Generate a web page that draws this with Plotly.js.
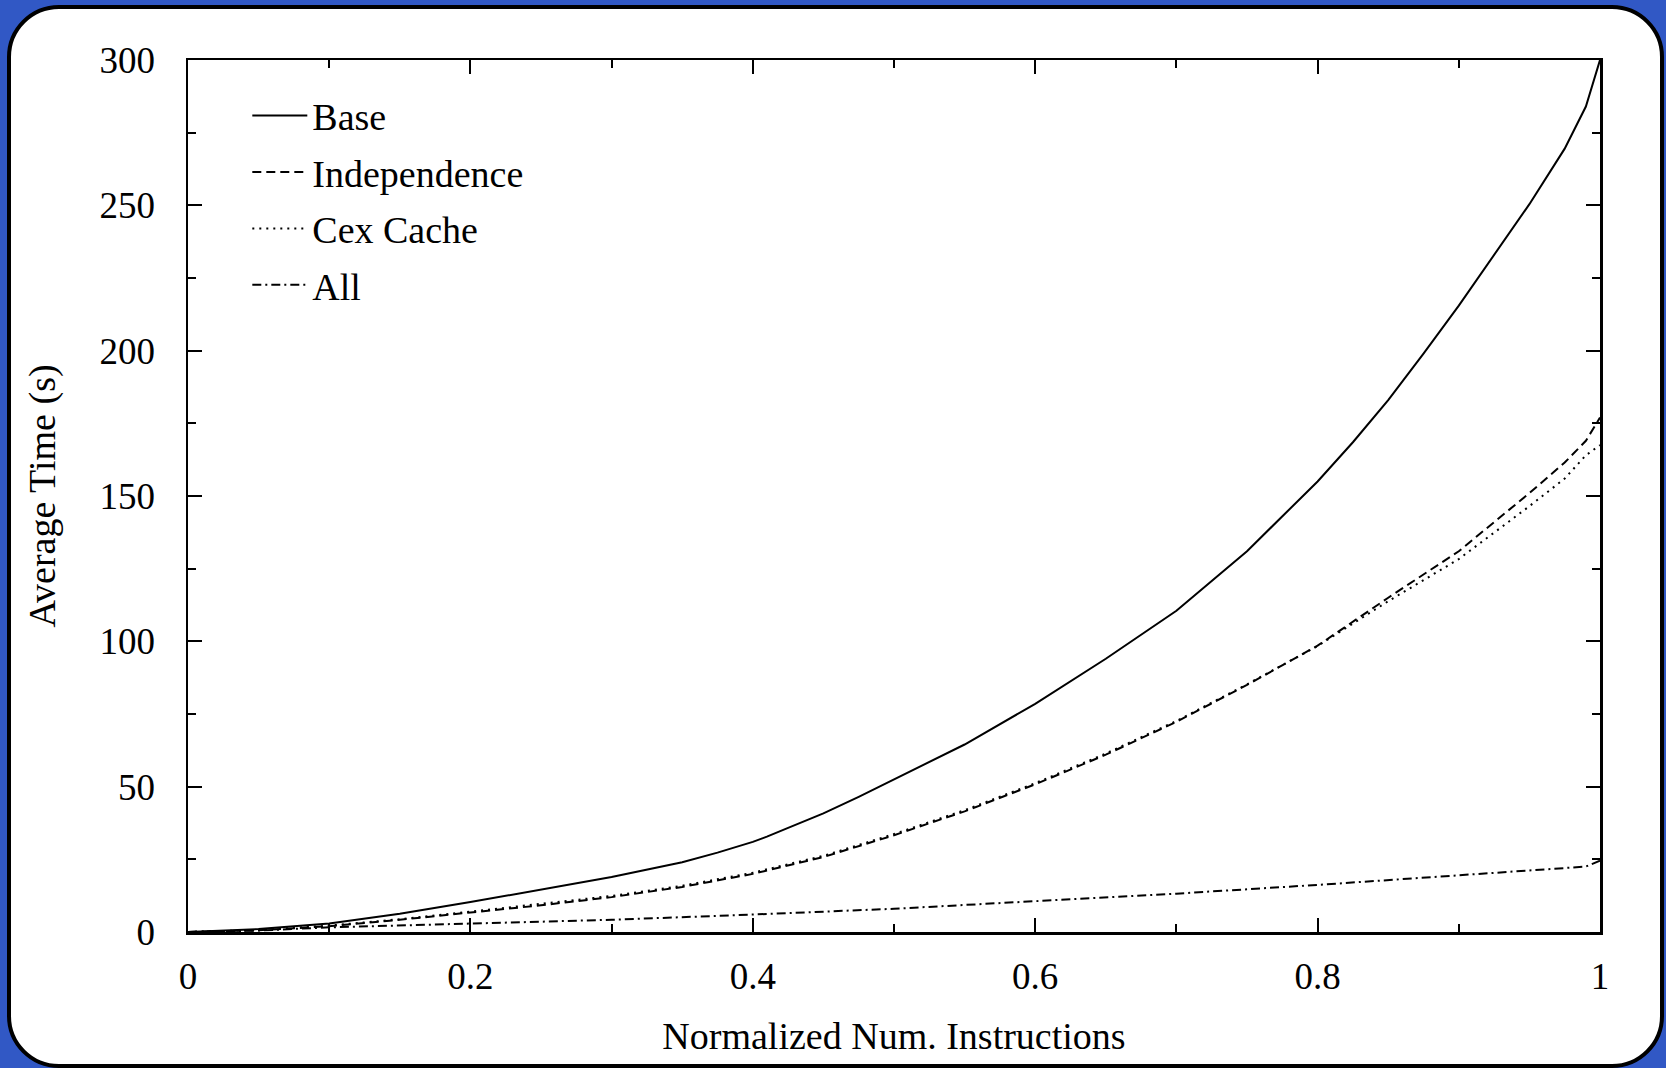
<!DOCTYPE html>
<html>
<head>
<meta charset="utf-8">
<script src="https://cdn.plot.ly/plotly-3.0.1.min.js"></script>
<style>
  html, body { margin: 0; padding: 0; width: 1666px; height: 1068px; overflow: hidden; background: #3158c5; }
  #card { position: absolute; left: 7px; top: 5px; width: 1657px; height: 1063px; box-sizing: border-box;
          border: 4px solid #000; border-radius: 52px; background: #fff; }
  #chart { position: absolute; left: 0; top: 0; width: 1666px; height: 1068px; }
</style>
</head>
<body>
<div id="card"></div>
<div id="chart"></div>
<script>
// Normalized number of instructions (x) and average time in seconds (y)
const xBase  = [0, 0.05, 0.1, 0.15, 0.2, 0.25, 0.3, 0.35, 0.375, 0.4, 0.41, 0.425, 0.45, 0.475, 0.5, 0.55, 0.6, 0.65, 0.7, 0.75, 0.8, 0.825, 0.85, 0.875, 0.9, 0.925, 0.95, 0.975, 0.99, 1.0];
const yBase  = [0, 1.0, 2.9, 6.3, 10.3, 14.5, 18.9, 24.0, 27.3, 31.0, 32.8, 35.8, 40.8, 46.5, 52.5, 64.5, 78.5, 94.0, 110.5, 131.0, 155.0, 168.5, 183.0, 199.0, 215.5, 233.0, 250.4, 269.5, 284.0, 300.0];

const xIndep = [0, 0.05, 0.1, 0.15, 0.2, 0.25, 0.3, 0.35, 0.4, 0.45, 0.5, 0.55, 0.6, 0.65, 0.7, 0.75, 0.8, 0.85, 0.9, 0.95, 0.975, 0.99, 1.0];
const yIndep = [0, 0.6, 2.0, 4.2, 6.7, 9.2, 12.0, 15.5, 20.0, 25.8, 33.3, 41.5, 50.8, 61.0, 72.3, 85.0, 98.5, 115.0, 131.0, 151.0, 161.5, 169.0, 177.0];

const xCex   = [0, 0.05, 0.1, 0.15, 0.2, 0.25, 0.3, 0.35, 0.4, 0.45, 0.5, 0.55, 0.6, 0.65, 0.7, 0.75, 0.8, 0.85, 0.9, 0.95, 0.975, 0.99, 1.0];
const yCex   = [0, 0.7, 2.2, 4.4, 7.0, 9.6, 12.4, 15.9, 20.4, 26.2, 33.7, 41.9, 51.2, 61.4, 72.6, 85.2, 98.4, 113.8, 128.3, 146.5, 156.0, 164.0, 167.5];

const xAll   = [0, 0.05, 0.1, 0.2, 0.3, 0.4, 0.5, 0.6, 0.7, 0.8, 0.9, 0.95, 0.99, 1.0];
const yAll   = [0, 0.5, 1.6, 2.8, 4.2, 6.0, 8.0, 10.6, 13.2, 16.2, 19.5, 21.2, 22.5, 24.5];

const seriesNames = ['Base', 'Independence', 'Cex Cache', 'All'];

const FONT = 'Liberation Serif, Times New Roman, serif';

function mk(x, y, name, dash) {
  return {
    x: x, y: y, name: name, type: 'scatter', mode: 'lines',
    legendgroup: name,
    line: { color: '#000', width: 2, dash: dash },
    hoverinfo: 'skip'
  };
}

const data = [
  mk(xBase,  yBase,  seriesNames[0], 'solid'),
  mk(xIndep, yIndep, seriesNames[1], '9px,5px'),
  mk(xCex,   yCex,   seriesNames[2], '2px,5px'),
  mk(xAll,   yAll,   seriesNames[3], '9px,4px,2px,4px')
];

const axisCommon = {
  showgrid: false, zeroline: false,
  showline: true, linecolor: '#000', linewidth: 2.5, mirror: 'allticks',
  ticks: 'inside', ticklen: 14, tickwidth: 2, tickcolor: '#000',
  tickfont: { family: FONT, size: 37, color: '#000' },
  fixedrange: true
};

const layout = {
  width: 1666, height: 1068,
  paper_bgcolor: 'rgba(0,0,0,0)', plot_bgcolor: 'rgba(0,0,0,0)',
  margin: { l: 188, r: 66, t: 60, b: 136, pad: 0 },
  font: { family: FONT, size: 37, color: '#000' },
  showlegend: true,
  legend: {
    x: 0.042, y: 0.972, xanchor: 'left', yanchor: 'top',
    bgcolor: 'rgba(0,0,0,0)', borderwidth: 0,
    font: { family: FONT, size: 38, color: '#000' },
    itemwidth: 55, tracegroupgap: 4, traceorder: 'grouped'
  },
  xaxis: Object.assign({}, axisCommon, {
    range: [0, 1], dtick: 0.2, tick0: 0,
    ticklabelstandoff: 10,
    minor: { dtick: 0.1, ticks: 'inside', ticklen: 8, tickwidth: 2, tickcolor: '#000', showgrid: false },
    title: { text: 'Normalized Num. Instructions', font: { family: FONT, size: 38, color: '#000' }, standoff: 27 }
  }),
  yaxis: Object.assign({}, axisCommon, {
    range: [0, 300], dtick: 50, tick0: 0,
    ticklabelstandoff: 23,
    minor: { dtick: 25, ticks: 'inside', ticklen: 8, tickwidth: 2, tickcolor: '#000', showgrid: false },
    title: { text: 'Average Time (s)', font: { family: FONT, size: 38, color: '#000' }, standoff: 33 }
  })
};

Plotly.newPlot('chart', data, layout, { displayModeBar: false, staticPlot: true });
</script>
</body>
</html>
